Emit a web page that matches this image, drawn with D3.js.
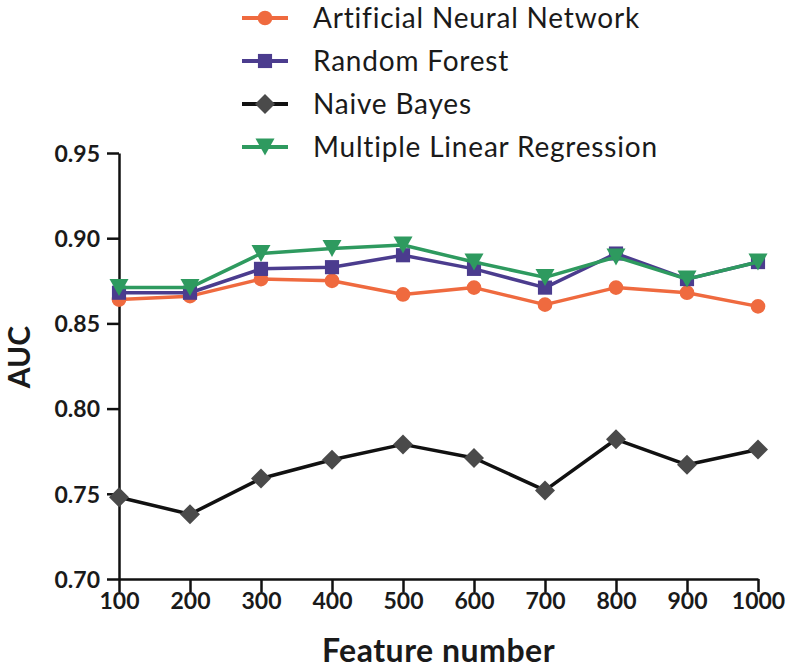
<!DOCTYPE html>
<html>
<head>
<meta charset="utf-8">
<script src="https://cdn.jsdelivr.net/npm/d3@7/dist/d3.min.js"></script>
<style>
  html, body { margin: 0; padding: 0; background: #fff; }
  svg { display: block; }
  text { font-family: Lato, "Open Sans", sans-serif; }
</style>
</head>
<body>
<svg id="chart" width="787" height="671"></svg>
<script>
const featureNumbers = [100, 200, 300, 400, 500, 600, 700, 800, 900, 1000];
const annValues = [0.864, 0.866, 0.876, 0.875, 0.867, 0.871, 0.861, 0.871, 0.868, 0.860];
const rfValues  = [0.868, 0.868, 0.882, 0.883, 0.890, 0.882, 0.871, 0.891, 0.876, 0.886];
const nbValues  = [0.748, 0.738, 0.759, 0.770, 0.779, 0.771, 0.752, 0.782, 0.767, 0.776];
const mlrValues = [0.871, 0.871, 0.891, 0.894, 0.896, 0.886, 0.877, 0.889, 0.876, 0.886];
const seriesNames = ["Artificial Neural Network", "Random Forest", "Naive Bayes", "Multiple Linear Regression"];
const yTicks = [0.70, 0.75, 0.80, 0.85, 0.90, 0.95];

const series = [
  { name: seriesNames[0], values: annValues, line: "#ef6a3f", fill: "#ef6a3f", symbol: "circle" },
  { name: seriesNames[1], values: rfValues,  line: "#4b3c8e", fill: "#4b3c8e", symbol: "square" },
  { name: seriesNames[2], values: nbValues,  line: "#111111", fill: "#4a4a4a", symbol: "diamond" },
  { name: seriesNames[3], values: mlrValues, line: "#2e9a5f", fill: "#2e9a5f", symbol: "triangle" }
];

const svg = d3.select("#chart");
const plotLeft = 119, plotRight = 758, plotTop = 153, plotBottom = 579;

const x = d3.scaleLinear().domain([100, 1000]).range([plotLeft, plotRight]);
const y = d3.scaleLinear().domain([0.70, 0.95]).range([plotBottom, plotTop]);

function symbolPath(type) {
  if (type === "circle") return d3.symbol().type(d3.symbolCircle).size(170)();
  if (type === "square") return d3.symbol().type(d3.symbolSquare).size(200)();
  if (type === "diamond") {
    const r = 10;
    return `M0,${-r}L${r},0L0,${r}L${-r},0Z`;
  }
  const w = 9.5, h = 8.5;
  return `M${-w},${-h}L${w},${-h}L0,${h}Z`;
}

const xAxis = d3.axisBottom(x).tickValues(featureNumbers).tickFormat(d3.format("d")).tickSizeInner(13).tickSizeOuter(0).tickPadding(1);
const yAxis = d3.axisLeft(y).tickValues(yTicks).tickFormat(d3.format(".2f")).tickSizeInner(12).tickSizeOuter(0).tickPadding(7);

const gx = svg.append("g").attr("transform", `translate(0,${plotBottom})`).call(xAxis);
const gy = svg.append("g").attr("transform", `translate(${plotLeft},0)`).call(yAxis);
[gx, gy].forEach(g => {
  g.select(".domain").attr("stroke", "#111").attr("stroke-width", 2.5);
  g.selectAll(".tick line").attr("stroke", "#111").attr("stroke-width", 2.5);
  g.selectAll(".tick text").attr("fill", "#1a1a1a").style("font-family", "Lato, sans-serif")
    .style("font-weight", "bold").style("font-size", "23px");
});
gy.selectAll(".tick text").attr("dy", "0.36em");

svg.append("text").attr("x", (plotLeft + plotRight) / 2).attr("y", 662)
  .attr("text-anchor", "middle").attr("fill", "#1a1a1a")
  .style("font-weight", "bold").style("font-size", "32px").style("letter-spacing", "0.5px").text("Feature number");
svg.append("text").attr("transform", `translate(30,357) rotate(-90)`)
  .attr("text-anchor", "middle").attr("fill", "#1a1a1a")
  .style("font-weight", "bold").style("font-size", "30px").text("AUC");

const line = d3.line().x((d, i) => x(featureNumbers[i])).y(d => y(d));
series.forEach(s => {
  const g = svg.append("g");
  g.append("path").datum(s.values).attr("d", line)
    .attr("fill", "none").attr("stroke", s.line).attr("stroke-width", 3.5).attr("stroke-linejoin", "round");
  g.selectAll("path.m").data(s.values).enter().append("path").attr("class", "m")
    .attr("d", symbolPath(s.symbol))
    .attr("transform", (d, i) => `translate(${x(featureNumbers[i])},${y(d)})`)
    .attr("fill", s.fill);
});

const legendY = d3.scalePoint().domain(seriesNames).range([18, 147]);
series.forEach(s => {
  const cy = legendY(s.name);
  const g = svg.append("g");
  g.append("line").attr("x1", 242).attr("x2", 288).attr("y1", cy).attr("y2", cy)
    .attr("stroke", s.line).attr("stroke-width", 4);
  g.append("path").attr("d", symbolPath(s.symbol)).attr("transform", `translate(265,${cy})`).attr("fill", s.fill);
  g.append("text").attr("x", 313).attr("y", cy).attr("dy", "0.36em")
    .attr("fill", "#1a1a1a").style("font-size", "28px").style("letter-spacing", "0.8px").text(s.name);
});
</script>
</body>
</html>
